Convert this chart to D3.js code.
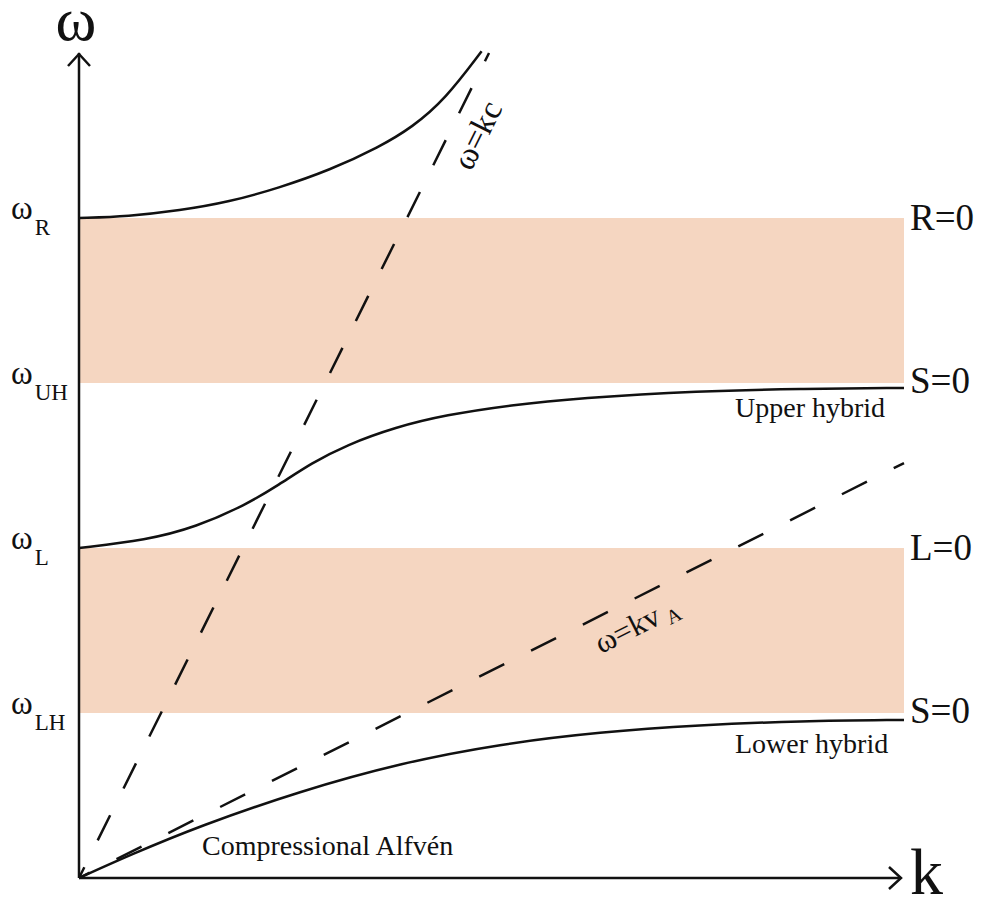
<!DOCTYPE html>
<html>
<head>
<meta charset="utf-8">
<script src="https://d3js.org/d3.v7.min.js"></script>
<style>
  html, body { margin: 0; padding: 0; background: #fff; }
  svg text { font-family: "Liberation Serif", "Times New Roman", serif; fill: #111; }
</style>
</head>
<body>
<div id="chart"></div>
<script>
// Dimensions
const width = 982;
const height = 897;

// Fréquences caractéristiques (unités arbitraires)
const cutoffNames = ["LH", "L", "UH", "R"];
const cutoffValues = [1, 2, 3, 4];
const rightLabels = ["S=0", "L=0", "S=0", "R=0"];

// Bandes interdites (ω bas, ω haut)
const bandLow = [1, 3];
const bandHigh = [2, 4];

// Branches de dispersion [k, ω]
const upperBranch = [
  [0, 4.0], [0.3, 4.01], [0.61, 4.045], [0.91, 4.097], [1.21, 4.182],
  [1.52, 4.29], [1.82, 4.43], [2.02, 4.55], [2.22, 4.72], [2.44, 5.01]
];
const middleBranch = [
  [0, 2.0], [0.41, 2.048], [0.71, 2.127], [1.01, 2.261], [1.21, 2.382],
  [1.41, 2.515], [1.62, 2.624], [1.92, 2.733], [2.22, 2.806], [2.62, 2.867],
  [3.03, 2.909], [3.76, 2.952], [4.37, 2.965], [5.0, 2.97]
];
const lowerBranch = [
  [0, 0], [0.31, 0.14], [0.73, 0.315], [1.34, 0.527], [1.95, 0.697],
  [2.55, 0.812], [3.16, 0.885], [3.76, 0.927], [4.37, 0.952], [5.0, 0.958]
];

// Asymptotes (droites)
const lightLine = [[0, 0], [2.485, 5.0]];
const alfvenLine = [[0, 0], [5.0, 2.515]];

const svg = d3.select("#chart")
  .append("svg")
  .attr("width", width)
  .attr("height", height);

const x = d3.scaleLinear().domain([0, 5]).range([79, 904]);
const y = d3.scaleLinear().domain([0, 5]).range([878, 53]);

const line = d3.line()
  .x((d) => x(d[0]))
  .y((d) => y(d[1]))
  .curve(d3.curveBasis);

// Bandes colorées
svg.selectAll("rect.band")
  .data(bandLow)
  .join("rect")
  .attr("class", "band")
  .attr("x", x(0))
  .attr("width", x(5) - x(0))
  .attr("y", (d, i) => y(bandHigh[i]))
  .attr("height", (d, i) => y(d) - y(bandHigh[i]))
  .attr("fill", "#f5d6c1");

// Asymptotes en pointillés
svg.selectAll("path.asym")
  .data([lightLine, alfvenLine])
  .join("path")
  .attr("class", "asym")
  .attr("d", d3.line().x((d) => x(d[0])).y((d) => y(d[1])))
  .attr("fill", "none")
  .attr("stroke", "#111")
  .attr("stroke-width", 2.5)
  .attr("stroke-dasharray", "28,30")
  .attr("stroke-dashoffset", 16);

// Courbes de dispersion
svg.selectAll("path.branch")
  .data([upperBranch, middleBranch, lowerBranch])
  .join("path")
  .attr("class", "branch")
  .attr("d", line)
  .attr("fill", "none")
  .attr("stroke", "#111")
  .attr("stroke-width", 2.5);

// Axes avec flèches
const axes = svg.append("g")
  .attr("stroke", "#111")
  .attr("stroke-width", 2.5)
  .attr("fill", "none");

axes.append("line")
  .attr("x1", x(0)).attr("y1", y(0))
  .attr("x2", x(0)).attr("y2", 53);
axes.append("path")
  .attr("d", `M${x(0) - 11},66 L${x(0)},54 L${x(0) + 11},66`);

axes.append("line")
  .attr("x1", x(0)).attr("y1", y(0))
  .attr("x2", 901).attr("y2", y(0));
axes.append("path")
  .attr("d", `M889,${y(0) - 11} L901,${y(0)} L889,${y(0) + 11}`);

// Titres des axes
svg.append("text")
  .attr("x", 76).attr("y", 40)
  .attr("text-anchor", "middle")
  .style("font-size", "62px")
  .text("ω");
svg.append("text")
  .attr("x", 910).attr("y", 894)
  .style("font-size", "66px")
  .text("k");

// Étiquettes à gauche
const leftLabels = svg.selectAll("text.cut")
  .data(cutoffValues)
  .join("text")
  .attr("class", "cut")
  .attr("x", 11)
  .attr("y", (d) => y(d) + 1)
  .style("font-size", "33px");
leftLabels.append("tspan").text("ω");
leftLabels.append("tspan")
  .attr("dx", 2)
  .attr("dy", 16)
  .style("font-size", "23px")
  .text((d, i) => cutoffNames[i]);

// Étiquettes à droite
svg.selectAll("text.right")
  .data(cutoffValues)
  .join("text")
  .attr("class", "right")
  .attr("x", 910)
  .attr("y", (d, i) => y(d) + (i % 2 === 0 ? 10 : 12))
  .style("font-size", "37px")
  .text((d, i) => rightLabels[i]);

// Noms des modes
svg.append("text")
  .attr("x", 735).attr("y", y(2.97) + 29)
  .style("font-size", "28px")
  .text("Upper hybrid");
svg.append("text")
  .attr("x", 735).attr("y", y(0.958) + 33)
  .style("font-size", "28px")
  .text("Lower hybrid");
svg.append("text")
  .attr("x", 202).attr("y", 855)
  .style("font-size", "28px")
  .text("Compressional Alfvén");

// Étiquettes des asymptotes
const kcAngle = -Math.atan2(y(0) - y(lightLine[1][1]), x(lightLine[1][0]) - x(0)) * 180 / Math.PI;
svg.append("text")
  .attr("transform", `translate(487,140) rotate(${kcAngle})`)
  .attr("text-anchor", "middle")
  .style("font-size", "33px")
  .text("ω=kc");

const vaAngle = -Math.atan2(y(0) - y(alfvenLine[1][1]), x(alfvenLine[1][0]) - x(0)) * 180 / Math.PI;
const va = svg.append("text")
  .attr("transform", `translate(641,634) rotate(${vaAngle})`)
  .attr("text-anchor", "middle")
  .style("font-size", "31px");
va.append("tspan").text("ω=kv");
va.append("tspan")
  .attr("dx", 6)
  .attr("dy", 5)
  .style("font-size", "20px")
  .text("A");
</script>
</body>
</html>
